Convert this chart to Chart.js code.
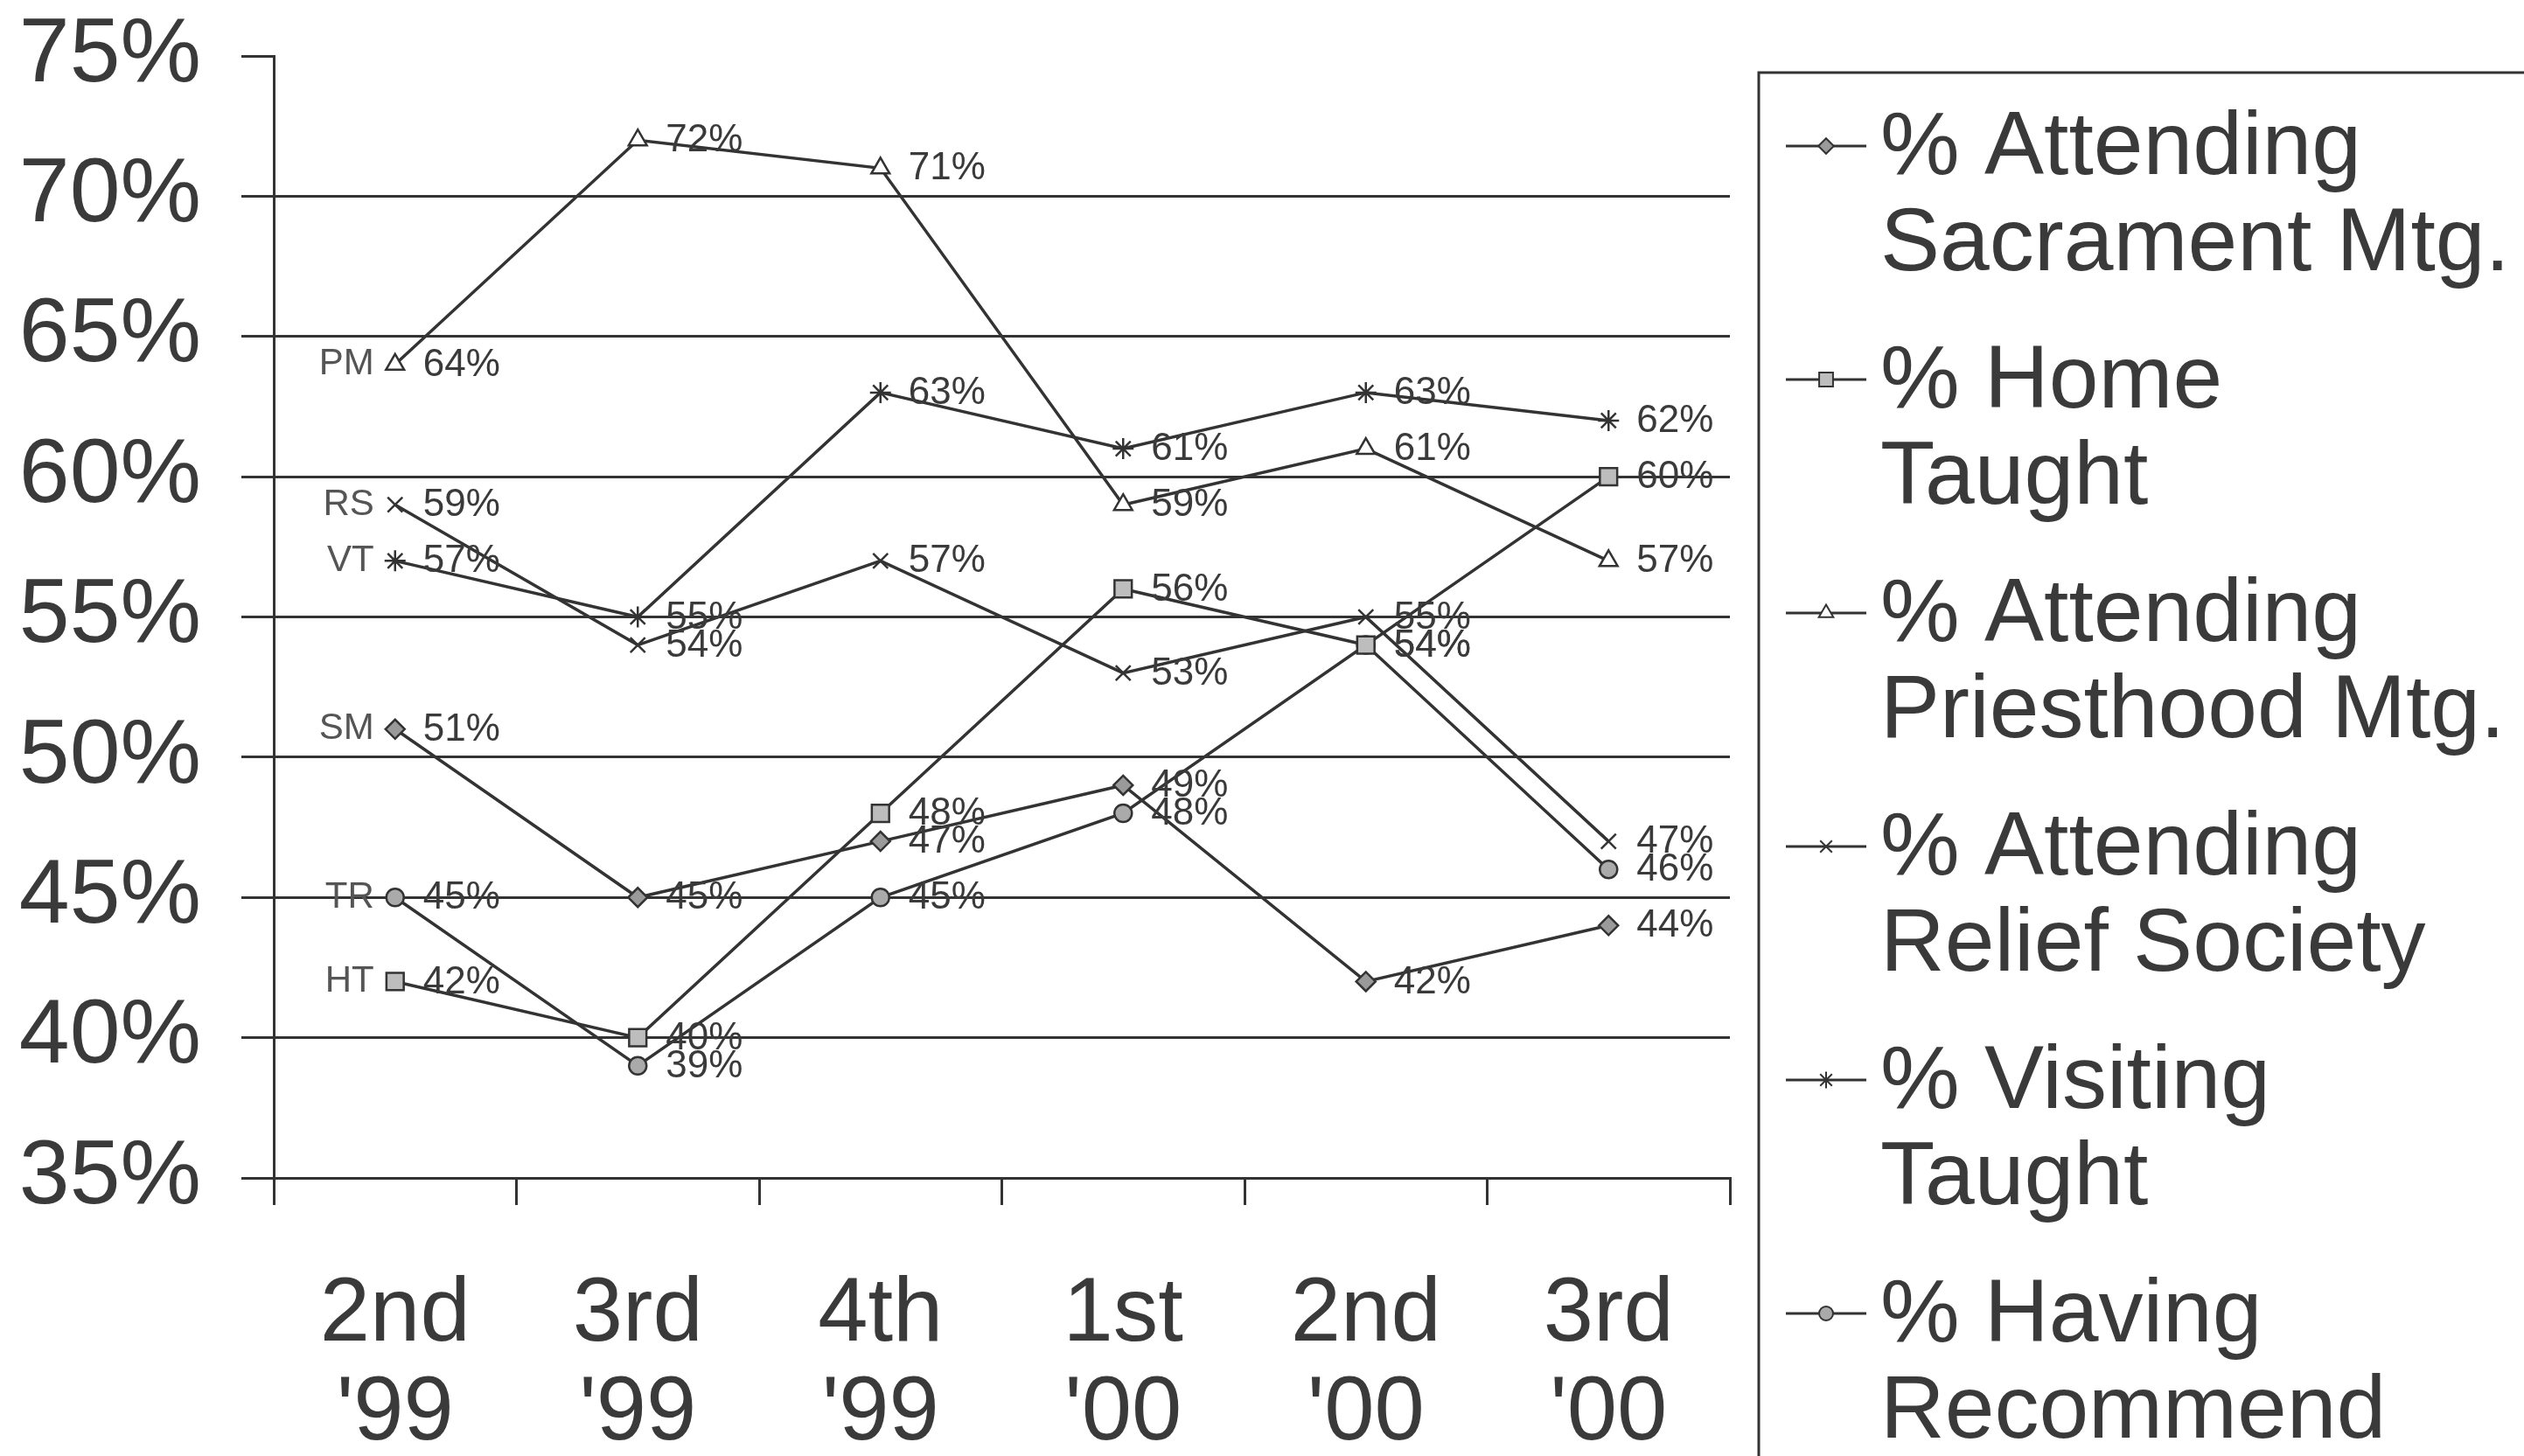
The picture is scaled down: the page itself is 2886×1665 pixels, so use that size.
<!DOCTYPE html>
<html><head><meta charset="utf-8">
<script src="https://cdn.jsdelivr.net/npm/chart.js@4.4.1/dist/chart.umd.min.js"></script>
<style>html,body{margin:0;padding:0;background:#fff;overflow:hidden}#wrap{width:2886px;height:1665px}</style>
</head><body><div id="wrap"><canvas id="c" width="2886" height="1665"></canvas></div>
<script>
const categories = [["2nd","'99"],["3rd","'99"],["4th","'99"],["1st","'00"],["2nd","'00"],["3rd","'00"]];
const sacrament = [51,45,47,49,42,44];
const homeTaught = [42,40,48,56,54,60];
const priesthood = [64,72,71,59,61,57];
const reliefSociety = [59,54,57,53,55,47];
const visitingTaught = [57,55,63,61,63,62];
const recommend = [45,39,45,48,54,46];
const seriesNames = [["% Attending","Sacrament Mtg."],["% Home","Taught"],["% Attending","Priesthood Mtg."],["% Attending","Relief Society"],["% Visiting","Taught"],["% Having","Recommend"]];
const handNotes = ["SM","HT","PM","RS","VT","TR"];
const yMin = 35, yMax = 75, yStep = 5;

const FONT = "'Liberation Sans', Arial, sans-serif";
const INK = '#333';
const TXT = '#3a3a3a';

const styles = [
  {pointStyle:'rectRot', pointRadius:11, pointBackgroundColor:'#9a9a9a'},
  {pointStyle:'rect', pointRadius:14, pointBackgroundColor:'#bdbdbd'},
  {pointStyle:'triangle', pointRadius:12, pointBackgroundColor:'#ffffff'},
  {pointStyle:'crossRot', pointRadius:12, pointBackgroundColor:'#ffffff'},
  {pointStyle:'star', pointRadius:12, pointBackgroundColor:'#ffffff'},
  {pointStyle:'circle', pointRadius:10, pointBackgroundColor:'#aaaaaa'}
];
const seriesData = [sacrament, homeTaught, priesthood, reliefSociety, visitingTaught, recommend];

const datasets = seriesData.map((d,i)=>Object.assign({
  label: seriesNames[i].join(' '),
  data: d,
  borderColor: INK,
  borderWidth: 3.5,
  pointBorderColor: INK,
  pointBorderWidth: 2.5,
  tension: 0,
  fill: false
}, styles[i]));

const labelPlugin = {
  id: 'labels',
  afterDatasetsDraw(chart){
    const ctx = chart.ctx;
    ctx.save();
    ctx.textBaseline = 'middle';
    chart.data.datasets.forEach((ds, i)=>{
      const meta = chart.getDatasetMeta(i);
      meta.data.forEach((pt, j)=>{
        ctx.fillStyle = TXT;
        ctx.font = `44px ${FONT}`;
        ctx.textAlign = 'left';
        ctx.fillText(ds.data[j] + '%', pt.x + 32, pt.y + 1);
      });
      const first = meta.data[0];
      ctx.font = `42px ${FONT}`;
      ctx.fillStyle = '#555';
      ctx.textAlign = 'right';
      ctx.fillText(handNotes[i], first.x - 24, first.y);
    });
    ctx.restore();
  }
};

const legendPlugin = {
  id: 'customLegend',
  afterDraw(chart){
    const ctx = chart.ctx;
    ctx.save();
    ctx.strokeStyle = INK;
    ctx.lineWidth = 3;
    ctx.beginPath();
    ctx.moveTo(2011, 1700);
    ctx.lineTo(2011, 83);
    ctx.lineTo(2900, 83);
    ctx.stroke();
    chart.data.datasets.forEach((ds, i)=>{
      const y = 167 + i*267;
      ctx.strokeStyle = INK;
      ctx.lineWidth = 3;
      ctx.beginPath();
      ctx.moveTo(2042, y); ctx.lineTo(2134, y);
      ctx.stroke();
      ctx.fillStyle = ds.pointBackgroundColor;
      ctx.strokeStyle = INK;
      ctx.lineWidth = 2;
      Chart.helpers.drawPoint(ctx, {pointStyle: ds.pointStyle, rotation: 0, radius: ds.pointRadius*0.8, borderWidth: 2}, 2088, y);
      ctx.fillStyle = TXT;
      ctx.font = `102px ${FONT}`;
      ctx.textAlign = 'left';
      ctx.textBaseline = 'middle';
      seriesNames[i].forEach((line, k)=>ctx.fillText(line, 2150, y + 4 + k*110));
    });
    ctx.restore();
  }
};

new Chart(document.getElementById('c'), {
  type: 'line',
  data: { labels: categories, datasets },
  options: {
    responsive: false,
    devicePixelRatio: 1,
    animation: false,
    layout: { padding: { top: 64, right: 908, left: 0, bottom: 0 } },
    plugins: { legend: { display: false }, tooltip: { enabled: false } },
    scales: {
      x: {
        offset: true,
        grid: { offset: true, drawOnChartArea: false, tickLength: 31, color: INK, lineWidth: 3 },
        border: { color: INK, width: 3 },
        ticks: { color: TXT, font: { family: FONT, size: 103, lineHeight: 1.1 }, padding: 70, maxRotation: 0, autoSkip: false },
        afterFit(s){ s.height = 318; s.paddingLeft = 0; s.paddingRight = 0; }
      },
      y: {
        min: yMin, max: yMax,
        grid: { color: (c)=> c.tick && c.tick.value === yMax ? 'rgba(0,0,0,0)' : INK, tickColor: INK, lineWidth: 3, tickLength: 37 },
        border: { color: INK, width: 3 },
        ticks: { stepSize: yStep, color: TXT, font: { family: FONT, size: 104 }, padding: 46, callback: v => v + '%' },
        afterFit(s){ s.width = 313; s.paddingTop = 0; s.paddingBottom = 0; }
      }
    }
  },
  plugins: [labelPlugin, legendPlugin]
});
</script></body></html>
